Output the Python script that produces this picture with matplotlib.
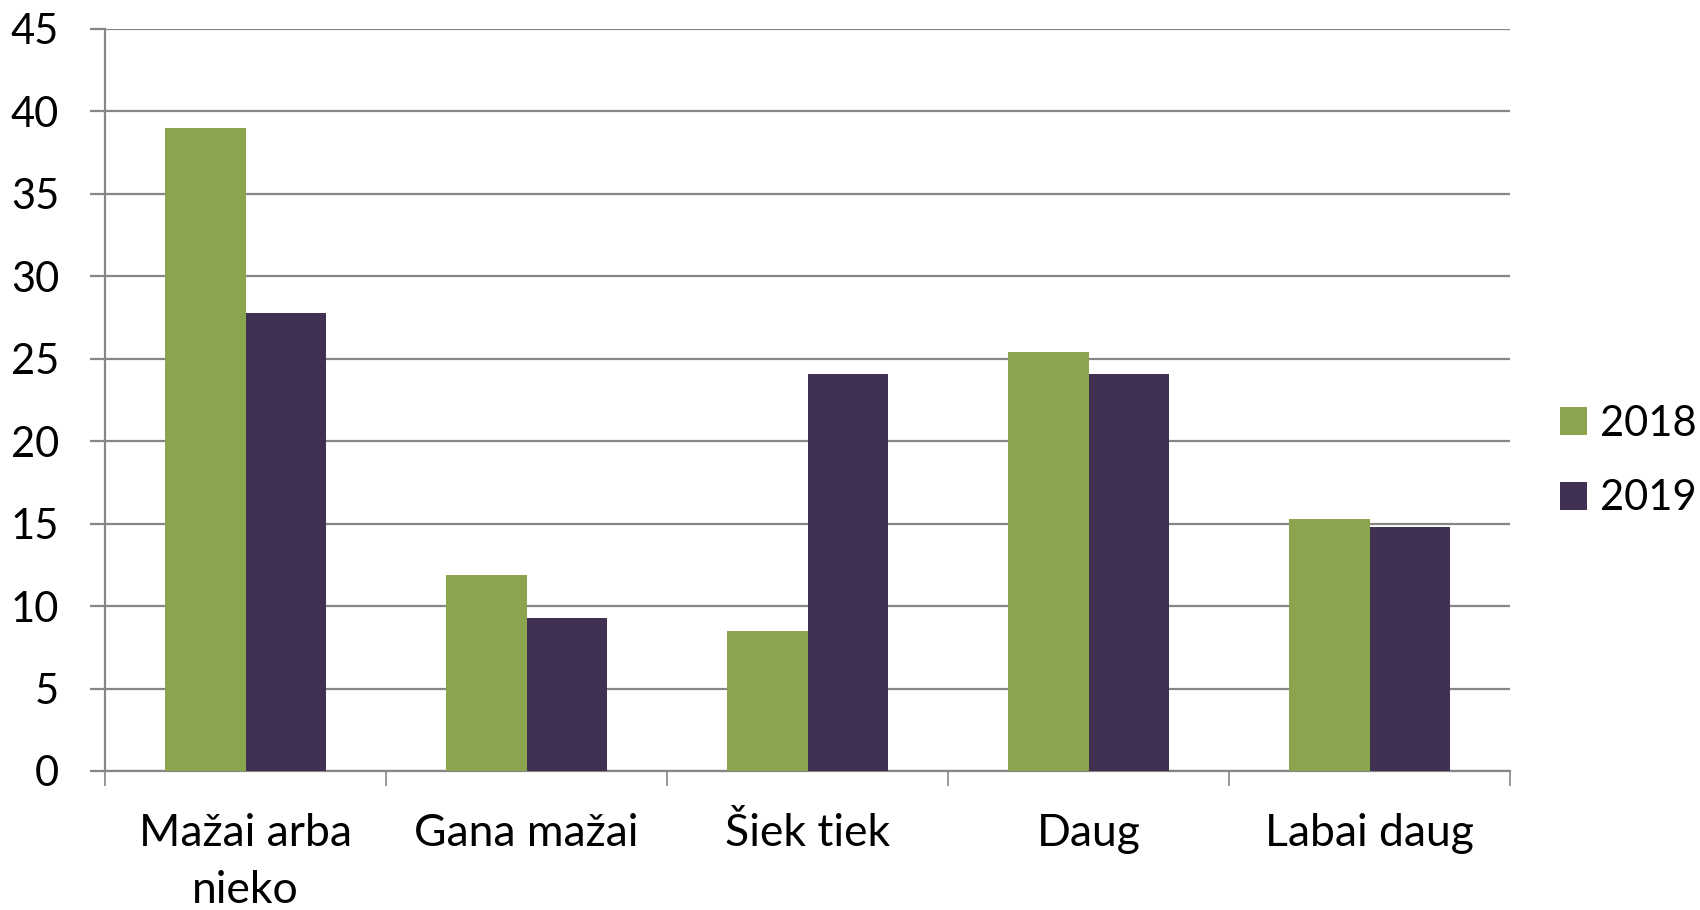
import matplotlib
matplotlib.use("Agg")
import matplotlib.pyplot as plt
import numpy as np

categories = ["Mažai arba\nnieko", "Gana mažai", "Šiek tiek", "Daug", "Labai daug"]
series_names = ["2018", "2019"]
values_2018 = [39.0, 11.9, 8.5, 25.4, 15.3]
values_2019 = [27.8, 9.3, 24.1, 24.1, 14.8]
colors = ["#8AA54E", "#403152"]

plt.rcParams['font.family'] = ['Lato', 'DejaVu Sans']

fig = plt.figure(figsize=(17, 9.1), dpi=100)
ax = fig.add_axes([105/1700, 1-771/910, (1510-105)/1700, (771-29)/910])

x = np.arange(len(categories))
w = 0.285
ax.bar(x - w/2, values_2018, w, color=colors[0], label=series_names[0], zorder=3)
ax.bar(x + w/2, values_2019, w, color=colors[1], label=series_names[1], zorder=3)

ax.set_xlim(-0.5, len(categories) - 0.5)
ax.set_ylim(0, 45)
ax.set_yticks(np.arange(0, 46, 5))
ax.yaxis.grid(True, color="#868686", linewidth=1.6, zorder=0)
ax.set_axisbelow(True)

ax.set_xticks(np.arange(-0.5, len(categories), 1.0))
ax.set_xticklabels([])
ax.set_xticks(x, minor=True)
ax.set_xticklabels(categories, minor=True, fontsize=32, linespacing=1.48)
ax.tick_params(axis='x', which='major', length=11, width=1.2, color="#868686")
ax.tick_params(axis='x', which='minor', length=0, pad=30)
ax.tick_params(axis='y', length=11, width=1.6, color="#868686", labelsize=30, pad=22)

for s in ['top', 'right']:
    ax.spines[s].set_visible(False)
ax.spines['left'].set_color("#868686")
ax.spines['left'].set_linewidth(1.6)
ax.spines['bottom'].set_color("#868686")
ax.spines['bottom'].set_linewidth(1.6)

leg = ax.legend(loc='center left', bbox_to_anchor=(0.8956, 1 - 461/910),
                bbox_transform=fig.transFigure, frameon=False,
                fontsize=30, handlelength=0.65, handleheight=0.65, handletextpad=0.3,
                labelspacing=0.88, borderpad=0.4)

fig.savefig("out.png", dpi=100)
